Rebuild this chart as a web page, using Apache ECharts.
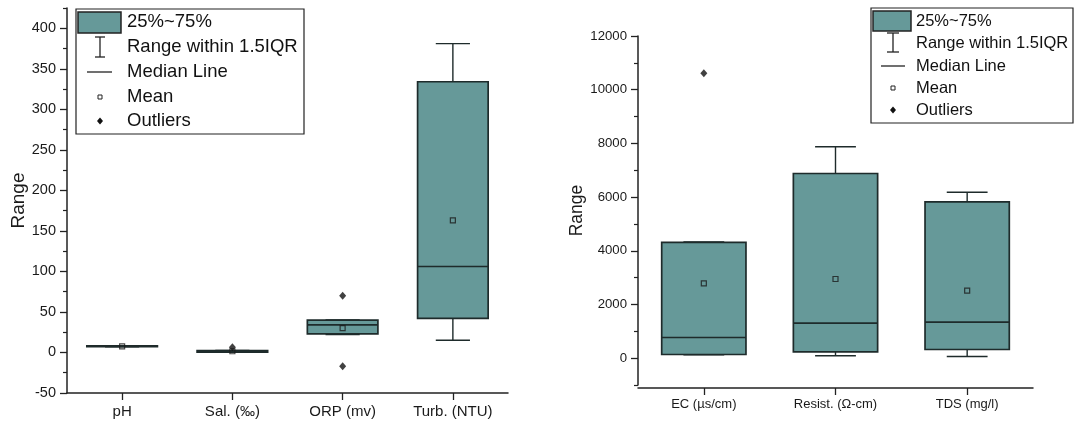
<!DOCTYPE html>
<html>
<head>
<meta charset="utf-8">
<script src="https://cdn.jsdelivr.net/npm/echarts@6/dist/echarts.min.js"></script>
<style>
html,body{margin:0;padding:0;background:#fff;}
#chart{width:1075px;height:427px;}
</style>
</head>
<body>
<div id="chart"></div>
<script>
// ---------- DATA ----------
const leftCategories = ['pH', 'Sal. (‰)', 'ORP (mv)', 'Turb. (NTU)'];
// [min(whisker), Q1, median, Q3, max(whisker)]
const leftBoxes = [
  [7.0, 7.1, 7.7, 8.3, 8.4],
  [0.2, 0.4, 1.2, 2.2, 2.4],
  [22, 23, 34, 40, 40],
  [15, 42, 106, 334, 381]
];
const leftMeans = [7.6, 1.5, 30, 163];
const leftOutliers = [[1, 6.5], [2, 70], [2, -17]];
const leftMajorTicks = [-50, 0, 50, 100, 150, 200, 250, 300, 350, 400];
const leftMinorTicks = [-25, 25, 75, 125, 175, 225, 275, 325, 375, 425];

const rightCategories = ['EC (µs/cm)', 'Resist. (Ω-cm)', 'TDS (mg/l)'];
const rightBoxes = [
  [124, 137, 771, 4316, 4330],
  [87, 236, 1306, 6878, 7873],
  [62, 323, 1343, 5821, 6182]
];
const rightMeans = [2786, 2948, 2512];
const rightOutliers = [[0, 10610]];
const rightMajorTicks = [0, 2000, 4000, 6000, 8000, 10000, 12000];
const rightMinorTicks = [-1000, 1000, 3000, 5000, 7000, 9000, 11000];

const legendLabels = ['25%~75%', 'Range within 1.5IQR', 'Median Line', 'Mean', 'Outliers'];

// ---------- STYLE ----------
const FONT = "'Liberation Sans', Arial, sans-serif";
const TXT = '#1a1a1a';
const FILL = '#669999';
const EDGE = '#1e2b2b';

function boxData(arr) { return arr.map((b, i) => [i].concat(b)); }

function renderBox(params, api) {
  const x = api.value(0);
  const band = api.size([1, 0])[0];
  const bw = band * 0.64, cw = band * 0.31;
  const cx = api.coord([x, 0])[0];
  const yMin = api.coord([x, api.value(1)])[1];
  const yQ1 = api.coord([x, api.value(2)])[1];
  const yMed = api.coord([x, api.value(3)])[1];
  const yQ3 = api.coord([x, api.value(4)])[1];
  const yMax = api.coord([x, api.value(5)])[1];
  const ls = { stroke: EDGE, lineWidth: 1.4 };
  return {
    type: 'group',
    children: [
      { type: 'line', shape: { x1: cx, y1: yMax, x2: cx, y2: yQ3 }, style: ls },
      { type: 'line', shape: { x1: cx, y1: yQ1, x2: cx, y2: yMin }, style: ls },
      { type: 'line', shape: { x1: cx - cw / 2, y1: yMax, x2: cx + cw / 2, y2: yMax }, style: ls },
      { type: 'line', shape: { x1: cx - cw / 2, y1: yMin, x2: cx + cw / 2, y2: yMin }, style: ls },
      { type: 'rect', shape: { x: cx - bw / 2, y: yQ3, width: bw, height: Math.max(yQ1 - yQ3, 0.5) },
        style: { fill: FILL, stroke: EDGE, lineWidth: 1.7 } },
      { type: 'line', shape: { x1: cx - bw / 2, y1: yMed, x2: cx + bw / 2, y2: yMed }, style: { stroke: EDGE, lineWidth: 1.6 } }
    ]
  };
}

function yAxisMain(grid, min, max, ticks, nameGap, nameSize, labelSize) {
  return {
    type: 'value', gridIndex: grid, min: min, max: max, position: 'left',
    name: 'Range', nameLocation: 'middle', nameGap: nameGap,
    nameTextStyle: { fontFamily: FONT, fontSize: nameSize, color: TXT },
    axisLine: { show: true, lineStyle: { color: '#222', width: 1.5 } },
    axisTick: { show: true, length: 7, customValues: ticks, lineStyle: { color: '#222', width: 1.3 } },
    axisLabel: { customValues: ticks, fontFamily: FONT, fontSize: labelSize, color: TXT, margin: 11,
      formatter: v => String(v) },
    splitLine: { show: false }
  };
}
function yAxisMinor(grid, min, max, ticks) {
  return {
    type: 'value', gridIndex: grid, min: min, max: max, position: 'left', offset: 0,
    axisLine: { show: false },
    axisTick: { show: true, length: 4, customValues: ticks, lineStyle: { color: '#222', width: 1.2 } },
    axisLabel: { show: false },
    splitLine: { show: false }
  };
}
function xAxis(grid, cats, labelSize, margin, offset) {
  return {
    type: 'category', gridIndex: grid, data: cats, offset: offset,
    axisLine: { show: true, onZero: false, lineStyle: { color: '#222', width: 1.5 } },
    axisTick: { show: true, alignWithLabel: true, length: 7, lineStyle: { color: '#222', width: 1.3 } },
    axisLabel: { fontFamily: FONT, fontSize: labelSize, color: TXT, margin: margin },
    splitLine: { show: false }
  };
}

function legendGraphics(o) {
  const els = [];
  els.push({ type: 'rect', shape: { x: o.x, y: o.y, width: o.w, height: o.h },
    style: { fill: '#fff', stroke: '#222', lineWidth: 1.2 }, z: 100 });
  els.push({ type: 'rect', shape: { x: o.sx, y: o.sy, width: o.sw, height: o.sh },
    style: { fill: FILL, stroke: '#222', lineWidth: 1.5 }, z: 101 });
  const ix = o.ix;
  els.push({ type: 'line', shape: { x1: ix, y1: o.ib[0], x2: ix, y2: o.ib[1] }, style: { stroke: '#222', lineWidth: 1.3 }, z: 101 });
  els.push({ type: 'line', shape: { x1: ix - o.cap, y1: o.ib[0], x2: ix + o.cap, y2: o.ib[0] }, style: { stroke: '#222', lineWidth: 1.3 }, z: 101 });
  els.push({ type: 'line', shape: { x1: ix - o.cap, y1: o.ib[1], x2: ix + o.cap, y2: o.ib[1] }, style: { stroke: '#222', lineWidth: 1.3 }, z: 101 });
  els.push({ type: 'line', shape: { x1: o.ml[0], y1: o.rows[2], x2: o.ml[1], y2: o.rows[2] }, style: { stroke: '#222', lineWidth: 1.3 }, z: 101 });
  els.push({ type: 'rect', shape: { x: ix - 2, y: o.rows[3] - 2, width: 4, height: 4 }, style: { fill: '#fff', stroke: '#222', lineWidth: 1 }, z: 101 });
  els.push({ type: 'polygon', shape: { points: [[ix, o.rows[4] - 3.5], [ix + 3, o.rows[4]], [ix, o.rows[4] + 3.5], [ix - 3, o.rows[4]]] },
    style: { fill: '#111' }, z: 101 });
  legendLabels.forEach((t, i) => {
    els.push({ type: 'text', x: o.tx, y: o.rows[i], z: 102,
      style: { text: t, fontFamily: FONT, fontSize: o.fs, fill: '#111', verticalAlign: 'middle', align: 'left' } });
  });
  return els;
}

const chart = echarts.init(document.getElementById('chart'), null, { renderer: 'canvas' });
chart.setOption({
  animation: false,
  backgroundColor: '#fff',
  grid: [
    { left: 67, right: 567, top: 8, bottom: 34 },
    { left: 638, right: 42, top: 36, bottom: 42 }
  ],
  xAxis: [
    xAxis(0, leftCategories, 15, 11, 0),
    xAxis(1, rightCategories, 13, 10, 3)
  ],
  yAxis: [
    yAxisMain(0, -50, 425, leftMajorTicks, 38, 19, 14.5),
    yAxisMinor(0, -50, 425, leftMinorTicks),
    yAxisMain(1, -1000, 12000, rightMajorTicks, 52, 17.5, 13.2),
    yAxisMinor(1, -1000, 12000, rightMinorTicks)
  ],
  series: [
    { type: 'custom', xAxisIndex: 0, yAxisIndex: 0, renderItem: renderBox, data: boxData(leftBoxes),
      encode: { x: 0, y: [1, 2, 3, 4, 5] }, z: 2, silent: true },
    { type: 'scatter', xAxisIndex: 0, yAxisIndex: 0, data: leftMeans.map((v, i) => [i, v]),
      symbol: 'rect', symbolSize: 5, itemStyle: { color: 'rgba(255,255,255,0)', borderColor: '#1a1a1a', borderWidth: 1.2 }, z: 5 },
    { type: 'scatter', xAxisIndex: 0, yAxisIndex: 0, data: leftOutliers,
      symbol: 'diamond', symbolSize: [7, 8], itemStyle: { color: '#111' }, z: 6 },
    { type: 'custom', xAxisIndex: 1, yAxisIndex: 2, renderItem: renderBox, data: boxData(rightBoxes),
      encode: { x: 0, y: [1, 2, 3, 4, 5] }, z: 2, silent: true },
    { type: 'scatter', xAxisIndex: 1, yAxisIndex: 2, data: rightMeans.map((v, i) => [i, v]),
      symbol: 'rect', symbolSize: 5, itemStyle: { color: 'rgba(255,255,255,0)', borderColor: '#1a1a1a', borderWidth: 1.2 }, z: 5 },
    { type: 'scatter', xAxisIndex: 1, yAxisIndex: 2, data: rightOutliers,
      symbol: 'diamond', symbolSize: [7, 8], itemStyle: { color: '#111' }, z: 6 }
  ],
  graphic: [].concat(
    legendGraphics({ x: 76, y: 9, w: 228, h: 125, sx: 78, sy: 12, sw: 43, sh: 21, ix: 100, ib: [37, 57], cap: 5,
      ml: [87, 112], rows: [22, 47, 72, 97, 121], tx: 127, fs: 18.5 }),
    legendGraphics({ x: 871, y: 8, w: 202, h: 115, sx: 873, sy: 11, sw: 38, sh: 20, ix: 893, ib: [33, 52], cap: 6,
      ml: [881, 905], rows: [21, 43, 66, 88, 110], tx: 916, fs: 16.5 })
  )
});
</script>
</body>
</html>
